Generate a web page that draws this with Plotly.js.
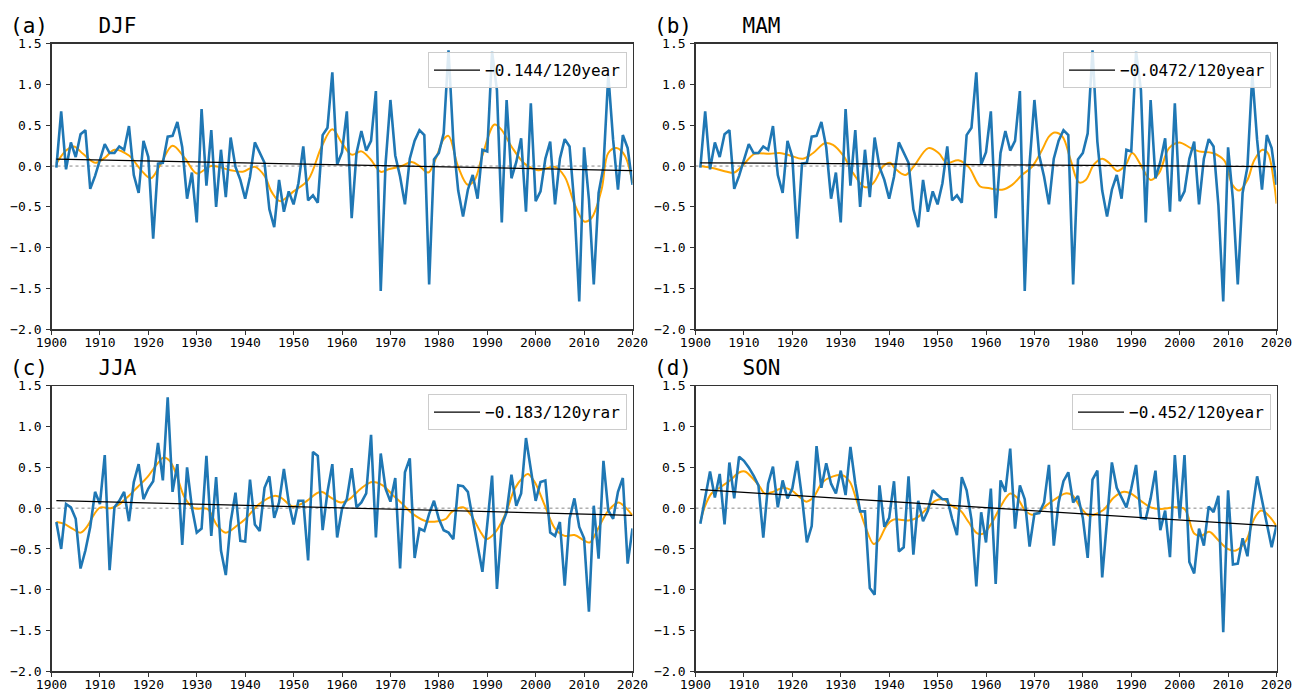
<!DOCTYPE html>
<html>
<head>
<meta charset="utf-8">
<script src="https://cdn.plot.ly/plotly-3.0.1.min.js"></script>
<style>
  html, body { margin: 0; padding: 0; background: #fff; }
  #chart { width: 1293px; height: 693px; }
</style>
</head>
<body>
<div id="chart"></div>
<script>
// Seasonal anomaly series, 1901-2020
const firstYear = 1901;
const lastYear = 2020;

const seasonNames = ['(a)\u00a0\u00a0\u00a0\u00a0DJF', '(b)\u00a0\u00a0\u00a0\u00a0MAM', '(c)\u00a0\u00a0\u00a0\u00a0JJA', '(d)\u00a0\u00a0\u00a0\u00a0SON'];

// Annual values (DJF and MAM share the same yearly series)
const valuesDJF = [
  -0.02, 0.67, -0.04, 0.29, 0.11, 0.39, 0.44, -0.28, -0.12, 0.08,
  0.27, 0.16, 0.16, 0.24, 0.20, 0.49, -0.11, -0.33, 0.31, 0.11,
  -0.89, 0.03, 0.04, 0.36, 0.37, 0.54, 0.23, -0.40, -0.08, -0.69,
  0.70, -0.24, 0.44, -0.50, 0.20, -0.38, 0.35, -0.01, -0.17, -0.40,
  -0.13, 0.29, 0.16, 0.04, -0.53, -0.75, -0.17, -0.56, -0.31, -0.47,
  -0.21, 0.24, -0.42, -0.36, -0.45, 0.38, 0.47, 1.15, 0.02, 0.17,
  0.67, -0.64, 0.16, 0.43, 0.19, 0.31, 0.92, -1.53, 0.03, 0.81,
  0.13, -0.13, -0.47, 0.09, 0.31, 0.44, 0.38, -1.45, 0.08, 0.16,
  0.40, 1.42, 0.30, -0.30, -0.62, -0.29, -0.11, -0.40, 0.20, 0.18,
  1.40, 0.93, -0.69, 0.81, -0.15, 0.05, 0.34, -0.56, 0.77, -0.43,
  -0.31, 0.09, 0.30, -0.47, 0.09, 0.33, 0.24, -0.48, -1.66, 0.23,
  -0.41, -1.45, -0.33, -0.01, 1.12, 0.32, -0.29, 0.38, 0.22, -0.23
];
const valuesMAM = valuesDJF.slice();

const valuesJJA = [
  -0.17, -0.50, 0.05, 0.01, -0.13, -0.74, -0.52, -0.23, 0.20, 0.05,
  0.65, -0.76, 0.01, 0.09, 0.20, -0.16, 0.32, 0.54, 0.11, 0.24,
  0.33, 0.80, 0.34, 1.36, 0.20, 0.54, -0.45, 0.50, 0.01, -0.30,
  -0.25, 0.64, -0.34, 0.38, -0.52, -0.82, -0.17, 0.19, -0.40, -0.41,
  0.35, -0.20, -0.28, 0.25, 0.39, -0.12, 0.07, 0.48, 0.07, -0.20,
  0.09, 0.09, -0.64, 0.69, 0.64, -0.27, 0.20, 0.54, -0.36, -0.01,
  0.11, 0.49, 0.01, 0.07, 0.18, 0.90, -0.36, 0.67, 0.24, 0.08,
  0.37, -0.74, 0.44, 0.61, -0.61, -0.25, -0.28, -0.07, 0.09, -0.13,
  -0.27, -0.30, -0.38, 0.28, 0.27, 0.20, -0.13, -0.45, -0.78, -0.20,
  0.40, -0.99, -0.21, -0.05, 0.41, 0.03, 0.18, 0.86, 0.46, 0.09,
  0.32, 0.34, -0.30, -0.34, -0.17, -0.95, -0.13, 0.12, -0.23, -0.37,
  -1.27, 0.03, -0.62, 0.58, -0.03, -0.13, 0.20, 0.37, -0.68, -0.25
];

const valuesSON = [
  -0.19, 0.12, 0.45, 0.13, 0.42, -0.20, 0.56, 0.12, 0.63, 0.58,
  0.50, 0.40, 0.28, -0.36, 0.30, 0.51, 0.01, 0.34, 0.12, 0.24,
  0.58, 0.13, -0.42, -0.22, 0.76, 0.25, 0.55, 0.30, 0.18, 0.46,
  0.16, 0.75, 0.30, -0.04, -0.04, -0.98, -1.06, 0.28, -0.23, -0.12,
  0.33, -0.53, -0.48, 0.39, -0.57, 0.09, -0.16, -0.03, 0.22, 0.16,
  0.11, 0.11, -0.13, -0.33, 0.38, 0.22, -0.14, -0.96, -0.05, -0.42,
  0.24, -0.93, 0.34, 0.20, 0.73, -0.25, 0.28, 0.11, -0.47, -0.07,
  -0.06, 0.07, 0.53, -0.46, 0.07, 0.33, 0.44, 0.07, 0.15, -0.12,
  -0.61, 0.35, 0.46, -0.85, -0.10, 0.56, 0.25, 0.13, 0.01, 0.24,
  0.53, -0.12, -0.13, 0.12, 0.46, -0.27, -0.03, -0.60, 0.65, -0.13,
  0.65, -0.66, -0.80, -0.25, -0.46, 0.02, -0.05, 0.15, -1.52, 0.22,
  -0.69, -0.68, -0.37, -0.59, -0.03, 0.39, 0.09, -0.21, -0.48, -0.21
];

// Low-pass filtered curves (year, value)
const smoothYearsDJF = [1901, 1903, 1904.6, 1906.5, 1909, 1911, 1913, 1916, 1918.5, 1920.5, 1922.5, 1925, 1927.5, 1930, 1933, 1937, 1939.5, 1942, 1944, 1945.5, 1947.2, 1950, 1953, 1955.8, 1958, 1960, 1962, 1964, 1965.8, 1968, 1969.6, 1972.3, 1974.4, 1976, 1977.8, 1979.5, 1981, 1982, 1984, 1986, 1987.4, 1989, 1991.5, 1993, 1995, 1997.7, 2000.5, 2004, 2006, 2008, 2010, 2011.5, 2013.6, 2015, 2016.7, 2018.4, 2020];
const smoothDJF = [0.03, 0.19, 0.24, 0.15, 0.04, 0.10, 0.20, 0.13, -0.05, -0.15, 0.02, 0.25, 0.10, -0.09, 0.0, -0.05, -0.07, -0.01, -0.12, -0.32, -0.43, -0.31, -0.17, 0.24, 0.45, 0.28, 0.14, 0.18, 0.09, -0.07, -0.04, 0.0, 0.05, 0.0, -0.08, 0.11, 0.33, 0.37, -0.01, -0.23, -0.17, 0.13, 0.51, 0.44, 0.24, 0.03, -0.05, -0.01, -0.13, -0.46, -0.68, -0.64, -0.29, 0.16, 0.22, 0.13, -0.21];

const smoothYearsMAM = [1901, 1904, 1906.5, 1908, 1909.8, 1912.2, 1915.3, 1917.4, 1919.5, 1922.2, 1924.3, 1926.7, 1928.4, 1930.5, 1932.6, 1935, 1936.7, 1938.8, 1940.2, 1941.2, 1943.3, 1945, 1948.1, 1950.2, 1951.9, 1954.3, 1956.4, 1958.8, 1960.5, 1963.3, 1965.4, 1967.4, 1969.5, 1971.6, 1973, 1974.2, 1975.8, 1977.5, 1979.2, 1980.6, 1982.3, 1984, 1985.4, 1987.1, 1988.8, 1990.2, 1991.9, 1994, 1995.7, 1997.8, 1999.9, 2002.3, 2004, 2006.8, 2009.2, 2010.9, 2012.3, 2014, 2015.4, 2017.1, 2018.2, 2019.5, 2020];
const smoothMAM = [0.0, -0.03, -0.07, -0.08, 0.01, 0.15, 0.15, 0.16, 0.13, 0.09, 0.16, 0.28, 0.26, 0.13, -0.09, -0.26, -0.21, 0.0, 0.04, -0.03, -0.11, -0.01, 0.22, 0.16, 0.04, 0.07, -0.01, -0.25, -0.27, -0.29, -0.23, -0.11, -0.01, 0.20, 0.36, 0.41, 0.36, 0.07, -0.20, -0.17, 0.02, 0.09, 0.04, -0.06, 0.01, 0.16, 0.02, -0.17, -0.09, 0.22, 0.29, 0.22, 0.18, 0.16, 0.07, -0.23, -0.30, -0.17, 0.07, 0.20, 0.16, -0.21, -0.46];

const smoothYearsJJA = [1901, 1902.5, 1904.3, 1906, 1907.3, 1909.1, 1910.1, 1912.2, 1913.6, 1915.6, 1917.8, 1919.8, 1921.8, 1923.2, 1924.4, 1925.7, 1927.5, 1929.4, 1932.2, 1934.2, 1936, 1938.4, 1940.1, 1942.9, 1946, 1947.4, 1949.8, 1952.2, 1955.6, 1957.7, 1959.8, 1961.5, 1964.3, 1966.3, 1968.4, 1970.5, 1972.5, 1974.6, 1977.4, 1979.8, 1981.5, 1982.6, 1985, 1986.7, 1988.8, 1989.8, 1991.5, 1993.6, 1995.7, 1997.4, 1998.4, 1999.8, 2001.9, 2004, 2006, 2008, 2010.1, 2011.2, 2012.9, 2015, 2017.1, 2018.5, 2020];
const smoothJJA = [-0.17, -0.19, -0.25, -0.30, -0.23, -0.05, 0.01, 0.0, 0.03, 0.13, 0.26, 0.38, 0.54, 0.62, 0.58, 0.43, 0.13, 0.0, -0.01, -0.21, -0.30, -0.21, -0.13, 0.05, 0.15, 0.13, 0.02, 0.07, 0.20, 0.13, 0.07, 0.11, 0.26, 0.32, 0.28, 0.16, 0.05, -0.07, -0.16, -0.16, -0.13, -0.05, 0.01, -0.09, -0.31, -0.38, -0.31, -0.09, 0.24, 0.38, 0.42, 0.32, 0.03, -0.25, -0.34, -0.33, -0.40, -0.42, -0.25, -0.03, 0.07, 0.01, -0.09];

const smoothYearsSON = [1901, 1902, 1903.3, 1905, 1907.1, 1909.1, 1910.2, 1911.9, 1913.3, 1914.3, 1916, 1918.1, 1919.8, 1921.6, 1922.9, 1924.3, 1926.3, 1928.4, 1930.5, 1931.9, 1933.3, 1935, 1936.8, 1937.8, 1939.5, 1940.9, 1941.9, 1944, 1945.7, 1947.4, 1949.5, 1951.2, 1952.6, 1954.7, 1956.4, 1958.2, 1959.5, 1961.3, 1963.3, 1965, 1966.4, 1968.1, 1969.5, 1970.9, 1972.6, 1974.3, 1976.4, 1977.8, 1979.5, 1981.2, 1982.3, 1984.3, 1986.4, 1988.5, 1989.9, 1992, 1994, 1996.1, 1998.9, 2001, 2003, 2004.4, 2006.1, 2007.8, 2009.9, 2011.6, 2013.7, 2015.4, 2016.8, 2018.2, 2020];
const smoothSON = [-0.17, 0.03, 0.18, 0.25, 0.34, 0.44, 0.45, 0.36, 0.26, 0.18, 0.20, 0.25, 0.22, 0.13, 0.08, 0.13, 0.32, 0.39, 0.40, 0.32, 0.09, -0.21, -0.44, -0.40, -0.21, -0.14, -0.14, -0.15, -0.12, -0.03, 0.09, 0.11, 0.04, -0.03, -0.17, -0.31, -0.31, -0.17, 0.05, 0.18, 0.13, -0.03, -0.08, -0.05, 0.04, 0.11, 0.18, 0.16, 0.01, -0.09, -0.08, -0.02, 0.13, 0.20, 0.18, 0.09, 0.01, -0.01, 0.01, -0.01, -0.31, -0.34, -0.29, -0.38, -0.50, -0.52, -0.40, -0.13, -0.03, -0.08, -0.22];

// Linear trends: value at the first year and change per 120 years
const trendStart = [0.086, 0.040, 0.093, 0.228];
const trendChange = [-0.144, -0.0472, -0.183, -0.452];
const trendLabels = ['\u22120.144/120year', '\u22120.0472/120year', '\u22120.183/120yrar', '\u22120.452/120year'];

const xTicks = [1900, 1910, 1920, 1930, 1940, 1950, 1960, 1970, 1980, 1990, 2000, 2010, 2020];

// ---------------------------------------------------------------
const W = 1293, H = 693;
const years = [];
for (let y = firstYear; y <= lastYear; y++) years.push(y);

const panels = [
  { vals: valuesDJF, sx: smoothYearsDJF, sy: smoothDJF, left: 51.5, right: 632.5, top: 43.7, bottom: 329.2 },
  { vals: valuesMAM, sx: smoothYearsMAM, sy: smoothMAM, left: 695.5, right: 1276.5, top: 43.7, bottom: 329.2 },
  { vals: valuesJJA, sx: smoothYearsJJA, sy: smoothJJA, left: 51.5, right: 632.5, top: 385.8, bottom: 671.3 },
  { vals: valuesSON, sx: smoothYearsSON, sy: smoothSON, left: 695.5, right: 1276.5, top: 385.8, bottom: 671.3 }
];

const tickFont = { family: 'DejaVu Sans Mono, monospace', size: 13, color: '#000' };
const textFont = { family: 'DejaVu Sans Mono, monospace', size: 21, color: '#000' };
const legendFont = { family: 'DejaVu Sans Mono, monospace', size: 16, color: '#000' };

const traces = [];
const layout = {
  width: W, height: H,
  margin: { l: 0, r: 0, t: 0, b: 0 },
  paper_bgcolor: '#fff', plot_bgcolor: '#fff',
  showlegend: true,
  annotations: [], shapes: []
};

panels.forEach((p, i) => {
  const n = i === 0 ? '' : String(i + 1);
  const xa = 'x' + n, ya = 'y' + n;
  const legendId = 'legend' + n;

  // smoothed curve
  traces.push({
    x: p.sx, y: p.sy, xaxis: xa, yaxis: ya, type: 'scatter', mode: 'lines',
    line: { color: '#FFA500', width: 2, shape: 'spline', smoothing: 1 },
    showlegend: false, hoverinfo: 'skip'
  });
  // yearly values
  traces.push({
    x: years, y: p.vals, xaxis: xa, yaxis: ya, type: 'scatter', mode: 'lines',
    line: { color: '#1f77b4', width: 2.6 },
    showlegend: false
  });
  // linear trend
  const tx = [firstYear, lastYear];
  const ty = tx.map(x => trendStart[i] + trendChange[i] * (x - firstYear) / 120);
  traces.push({
    x: tx, y: ty, xaxis: xa, yaxis: ya, type: 'scatter', mode: 'lines',
    line: { color: '#000', width: 1.2 },
    name: trendLabels[i], legend: legendId, showlegend: true
  });

  layout['xaxis' + n] = {
    domain: [p.left / W, p.right / W], anchor: ya,
    range: [1900, 2020], tickvals: xTicks, ticktext: xTicks.map(String),
    ticks: 'outside', ticklen: 4, tickwidth: 1, tickcolor: '#333',
    ticklabelstandoff: -3,
    showline: true, mirror: true, linecolor: '#333', linewidth: 1.3,
    showgrid: false, zeroline: false, tickfont: tickFont
  };
  layout['yaxis' + n] = {
    domain: [1 - p.bottom / H, 1 - p.top / H], anchor: xa,
    range: [-2, 1.5], tickvals: [-2, -1.5, -1, -0.5, 0, 0.5, 1, 1.5], tickformat: '.1f',
    ticks: 'outside', ticklen: 4, tickwidth: 1, tickcolor: '#333',
    ticklabelstandoff: 2,
    showline: true, mirror: true, linecolor: '#333', linewidth: 1.3,
    showgrid: false, zeroline: false, tickfont: tickFont
  };
  layout[legendId] = {
    x: (p.right - 5.5) / W, xanchor: 'right',
    y: 1 - (p.top + 8.5) / H, yanchor: 'top',
    bgcolor: 'rgba(255,255,255,0.85)', bordercolor: '#cccccc', borderwidth: 1,
    font: legendFont, itemwidth: 46
  };

  // dotted zero reference
  layout.shapes.push({
    type: 'line', xref: xa + ' domain', yref: ya, x0: 0, x1: 1, y0: 0, y1: 0,
    line: { color: '#888', width: 1, dash: 'dot' }, layer: 'below'
  });

  // panel title
  layout.annotations.push({
    text: seasonNames[i], xref: 'paper', yref: 'paper',
    x: (p.left - 44) / W, y: 1 - (p.top - 18) / H,
    xanchor: 'left', yanchor: 'middle', showarrow: false, font: textFont
  });
});

Plotly.newPlot('chart', traces, layout, { displayModeBar: false, staticPlot: true });
</script>
</body>
</html>
